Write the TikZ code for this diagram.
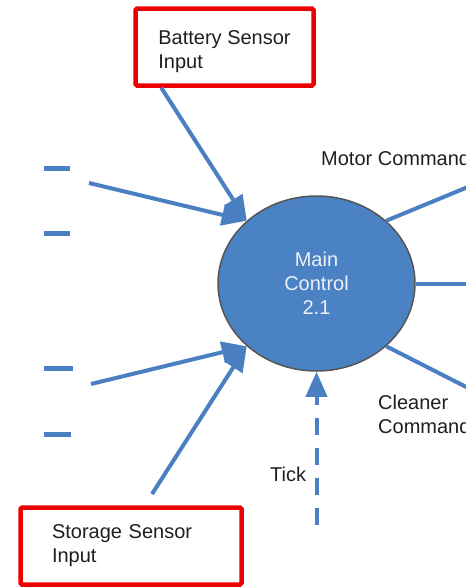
\documentclass[tikz,border=0pt]{standalone}
\usepackage{fontspec}
\setmainfont{Liberation Sans}
\usetikzlibrary{shapes.geometric,arrows.meta,calc}
\definecolor{flowblue}{RGB}{74,128,194}
\definecolor{procfill}{RGB}{74,130,196}
\definecolor{procedge}{RGB}{85,85,85}
\definecolor{boxred}{RGB}{238,0,0}
\definecolor{txt}{RGB}{30,30,35}
\definecolor{proctxt}{RGB}{236,240,248}
\tikzset{
  flow/.style={draw=flowblue, line width=4pt, -{Triangle[length=25pt,width=21pt]}},
  plainflow/.style={draw=flowblue, line width=4pt},
  tickflow/.style={draw=flowblue, line width=4pt, dash pattern=on 17pt off 13pt, -{Triangle[length=25pt,width=21pt,sep=0pt]}},
  stub/.style={draw=flowblue, line width=5pt},
  redbox/.style={draw=boxred, line width=4.5pt, rounded corners=1.5pt, rectangle, inner sep=0pt, text=txt, align=left},
  proc/.style={ellipse, draw=procedge, line width=1.5pt, fill=procfill, minimum width=197pt, minimum height=175pt, inner sep=0pt, text=proctxt, align=center},
  lbl/.style={inner sep=0pt, text=txt, anchor=base west, align=left}
}
\begin{document}
\begin{tikzpicture}[x=1pt,y=-1pt,font=\fontsize{20}{24}\selectfont]
\useasboundingbox (0,0) rectangle (466,587);
\clip (0,0) rectangle (466,587);
% boxes
\node[redbox, minimum width=178pt, minimum height=77pt, text height=43pt, text depth=0pt] (battery) at (224.5,47) {Battery Sensor\\Input};
\node[redbox, text width=158pt, inner xsep=31.5pt, minimum height=77pt] (storage) at (131,546) {Storage Sensor\\Input};
% process
\node[proc] (main) at (316.5,283.5) {Main\\Control\\2.1};
% left stubs
\draw[stub] (44,168) -- (70,168);
\draw[stub] (44,233) -- (70,233);
\draw[stub] (44,368) -- (73,368);
\draw[stub] (44,434) -- (71,434);
% free ends
\coordinate (lu) at (89,183);
\coordinate (ll) at (91,384);
\coordinate (st) at (152,494);
\coordinate (tk) at (316.5,525);
\coordinate (ru) at (480,182);
\coordinate (rm) at (480,283.5);
\coordinate (rl) at (480,394);
% incoming flows
\draw[flow] ($(battery.south west)+(28,0)$) -- (main.138);
\draw[flow] (lu) -- (main.138);
\draw[flow] (ll) -- (main.222);
\draw[flow] (st) -- (main.222);
\draw[tickflow] (tk) -- (main.south);
% outgoing flows
\draw[plainflow] (main.42) -- (ru);
\draw[plainflow] (main.east) -- (rm);
\draw[plainflow] (main.318) -- (rl);
% labels
\node[lbl] (motor) at (321,165) {Motor Command};
\node[lbl] (cleaner) at (378,433) {Cleaner\\Command};
\node[lbl] (tick) at (270,481) {Tick};
\end{tikzpicture}
\end{document}
